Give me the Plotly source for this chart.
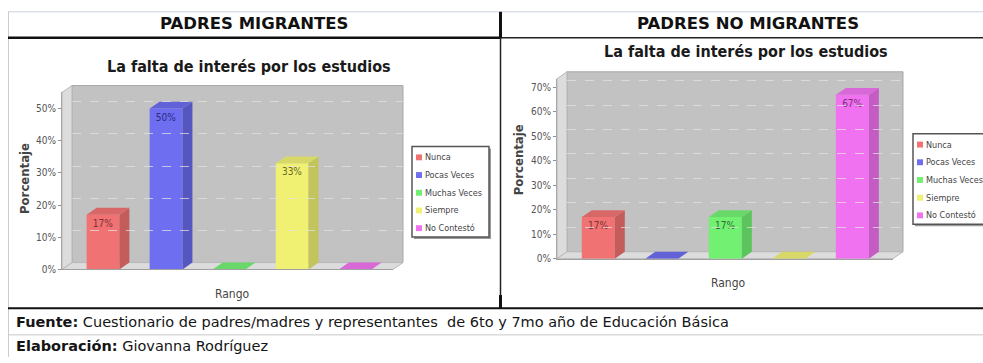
import plotly.graph_objects as go

# ---- data -------------------------------------------------------------
categories = ["Nunca", "Pocas Veces", "Muchas Veces", "Siempre", "No Contestó"]
migrantes = [17, 50, 0, 33, 0]          # % PADRES MIGRANTES
no_migrantes = [17, 0, 17, 0, 67]       # % PADRES NO MIGRANTES
ticks_left = [0, 10, 20, 30, 40, 50]
ticks_right = [0, 10, 20, 30, 40, 50, 60, 70]

header_left = "PADRES MIGRANTES"
header_right = "PADRES NO MIGRANTES"
chart_title = "La falta de interés por los estudios"
y_title = "Porcentaje"
x_title = "Rango"
fuente = "Cuestionario de padres/madres y representantes  de 6to y 7mo año de Educación Básica"
elaboracion = "Giovanna Rodríguez"

# ---- styling ----------------------------------------------------------
front = ["#F07272", "#6E6EF0", "#72F072", "#F0F072", "#F072F0"]
side = ["#C45C5C", "#5656C0", "#5CC45C", "#C4C45C", "#C45CC4"]
top = ["#D86868", "#6262D8", "#68D868", "#D8D868", "#D868D8"]
label_col = ["#7A3434", "#2A2A80", "#2E6E2E", "#6A6A28", "#7A307A"]

W, H = 983, 363
NARROW = "Liberation Sans Narrow, DejaVu Sans Condensed, Arial Narrow, sans-serif"
WIDE = "DejaVu Sans, Verdana, sans-serif"
BAR_W = 0.52
DX, DY = 10, 7          # 3D depth offset in pixels


def px(x):
    return x / W


def py(y):
    return 1 - y / H


fig = go.Figure()
shapes = []
annotations = []


def panel(values, ax_front, ax_back, x0, x1, ybot, ytop, xr, yr, ticks,
          legend_x, legend_y):
    """Draw one 3D-style bar chart on a front axis pair with a back wall axis pair."""
    xa, ya = ax_front
    xb, yb = ax_back
    # walls (paper coordinates)
    shapes.append(dict(type="rect", xref="paper", yref="paper",
                       x0=px(x0 + DX), x1=px(x1 + DX), y0=py(ybot - DY), y1=py(ytop - DY),
                       fillcolor="#C2C2C2", line=dict(color="#A8A8A8", width=1), layer="below"))
    shapes.append(dict(type="path", xref="paper", yref="paper",
                       path=f"M{px(x0)},{py(ybot)} L{px(x0)},{py(ytop)} L{px(x0 + DX)},{py(ytop - DY)} "
                            f"L{px(x0 + DX)},{py(ybot - DY)} Z",
                       fillcolor="#DCDCDC", line=dict(color="#B8B8B8", width=1), layer="below"))
    shapes.append(dict(type="path", xref="paper", yref="paper",
                       path=f"M{px(x0)},{py(ybot)} L{px(x1)},{py(ybot)} L{px(x1 + DX)},{py(ybot - DY)} "
                            f"L{px(x0 + DX)},{py(ybot - DY)} Z",
                       fillcolor="#DCDCDC", line=dict(color="#B8B8B8", width=1), layer="below"))

    xk = "xaxis" + xa[1:]
    yk = "yaxis" + ya[1:]
    xbk = "xaxis" + xb[1:]
    ybk = "yaxis" + yb[1:]
    layout_axes = {
        xk: dict(domain=[px(x0), px(x1)], range=xr, anchor=ya, showgrid=False, zeroline=False,
                 showticklabels=False, showline=True, linecolor="#A0A0A0", linewidth=1,
                 fixedrange=True),
        yk: dict(domain=[py(ybot), py(ytop)], range=yr, anchor=xa, showgrid=False, zeroline=False,
                 tickvals=ticks, ticktext=[f"{t}%" for t in ticks], ticks="outside", ticklen=3,
                 tickcolor="#909090", showline=True, linecolor="#A8A8A8", linewidth=1,
                 tickfont=dict(family=NARROW, size=10, color="#555555"), fixedrange=True),
        xbk: dict(domain=[px(x0 + DX), px(x1 + DX)], range=xr, anchor=yb, visible=False,
                  fixedrange=True),
        ybk: dict(domain=[py(ybot - DY), py(ytop - DY)], range=yr, anchor=xb, showgrid=True,
                  gridcolor="rgba(225,225,225,0.75)", griddash="dash", gridwidth=1,
                  tickvals=ticks[1:], showticklabels=False, zeroline=False, showline=False,
                  fixedrange=True),
    }
    fig.update_layout(**layout_axes)
    fig.add_trace(go.Scatter(x=[], y=[], xaxis=xb, yaxis=yb, showlegend=False))

    # pixel -> data conversion for the depth faces
    ux = DX / ((x1 - x0) / (xr[1] - xr[0]))
    uy = DY / ((ybot - ytop) / (yr[1] - yr[0]))
    h = BAR_W / 2
    for i, (cat, v) in enumerate(zip(categories, values)):
        # side face
        fig.add_trace(go.Scatter(
            x=[i + h, i + h, i + h + ux, i + h + ux, i + h],
            y=[0, v, v + uy, uy, 0], mode="lines", fill="toself",
            fillcolor=side[i], line=dict(width=0, color=side[i]),
            xaxis=xa, yaxis=ya, showlegend=False, hoverinfo="skip"))
        # top face
        fig.add_trace(go.Scatter(
            x=[i - h, i + h, i + h + ux, i - h + ux, i - h],
            y=[v, v, v + uy, v + uy, v], mode="lines", fill="toself",
            fillcolor=top[i], line=dict(width=0, color=top[i]),
            xaxis=xa, yaxis=ya, showlegend=False, hoverinfo="skip"))
        # front face
        fig.add_trace(go.Bar(
            x=[i], y=[v], width=BAR_W, name=cat, marker=dict(color=front[i], line=dict(width=0)),
            text=[f"{v}%" if v > 0 else ""], textposition="inside", insidetextanchor="end",
            textangle=0, textfont=dict(family=NARROW, size=10, color=label_col[i]),
            xaxis=xa, yaxis=ya, showlegend=False))

    # legend box
    lx, ly = legend_x, legend_y
    shapes.append(dict(type="rect", xref="paper", yref="paper",
                       x0=px(lx + 2), x1=px(lx + 79), y0=py(ly + 94), y1=py(ly + 2),
                       fillcolor="#9A9A9A", line=dict(width=0)))
    shapes.append(dict(type="rect", xref="paper", yref="paper",
                       x0=px(lx), x1=px(lx + 77), y0=py(ly + 92), y1=py(ly),
                       fillcolor="white", line=dict(color="#555555", width=1.5)))
    for i, cat in enumerate(categories):
        cy = ly + 11 + i * 18
        shapes.append(dict(type="rect", xref="paper", yref="paper",
                           x0=px(lx + 4), x1=px(lx + 10), y0=py(cy + 3), y1=py(cy - 3),
                           fillcolor=front[i], line=dict(width=0)))
        annotations.append(dict(x=px(lx + 11), y=py(cy), xref="paper", yref="paper",
                                text=cat, showarrow=False, xanchor="left", yanchor="middle",
                                font=dict(family=NARROW, size=9, color="#444444")))


panel(migrantes, ("x", "y"), ("x2", "y2"), 62, 393, 274, 94,
      [-0.65, 4.6], [0, 55], ticks_left, 412, 149)
panel(no_migrantes, ("x3", "y3"), ("x4", "y4"), 557, 893, 263, 80,
      [-0.65, 4.64], [0, 73.6], ticks_right, 913, 136)

# ---- table frame ------------------------------------------------------
def hline(y, xa, xb, color, width):
    shapes.append(dict(type="line", xref="paper", yref="paper", x0=px(xa), x1=px(xb),
                       y0=py(y), y1=py(y), line=dict(color=color, width=width)))


def vline(x, ya, yb, color, width):
    shapes.append(dict(type="line", xref="paper", yref="paper", x0=px(x), x1=px(x),
                       y0=py(ya), y1=py(yb), line=dict(color=color, width=width)))


hline(12, 8, 983, "#C9D0DE", 1)
vline(8.5, 12, 363, "#C9CCD4", 1)
hline(38.5, 8, 500, "#111111", 2.5)
hline(38.5, 500, 983, "#222222", 1.5)
vline(500.5, 12, 39, "#111111", 3)
vline(500.5, 39, 300, "#222222", 1.5)
vline(500.5, 300, 314, "#111111", 3)
hline(313.5, 8, 983, "#111111", 2)
hline(340.5, 8, 983, "#C8C8C8", 1)

# ---- texts ------------------------------------------------------------
def txt(x, y, s, size, family, color="#111111", anchor="center", angle=0):
    annotations.append(dict(x=px(x), y=py(y), xref="paper", yref="paper", text=s,
                            showarrow=False, xanchor=anchor, yanchor="middle", textangle=angle,
                            font=dict(family=family, size=size, color=color)))


txt(254, 24, f"<b>{header_left}</b>", 16.5, WIDE)
txt(748, 24, f"<b>{header_right}</b>", 16.5, WIDE)
txt(249, 68, f"<b>{chart_title}</b>", 16, NARROW, "#1A1A1A")
txt(746, 52, f"<b>{chart_title}</b>", 16, NARROW, "#1A1A1A")
txt(25, 182, f"<b>{y_title}</b>", 13, NARROW, "#444444", angle=-90)
txt(518, 163, f"<b>{y_title}</b>", 13, NARROW, "#444444", angle=-90)
txt(232, 299, x_title, 12, NARROW, "#444444")
txt(728, 288, x_title, 12, NARROW, "#444444")
txt(14, 327, f"<b>Fuente:</b> {fuente}", 14.5, WIDE, "#151515", anchor="left")
txt(14, 352, f"<b>Elaboración:</b> {elaboracion}", 14.5, WIDE, "#151515", anchor="left")

fig.update_layout(
    width=W, height=H, margin=dict(l=0, r=0, t=0, b=0),
    paper_bgcolor="white", plot_bgcolor="rgba(0,0,0,0)",
    shapes=shapes, annotations=annotations, barmode="overlay", showlegend=False,
)

fig.write_html("out.html", config={"displayModeBar": False})
